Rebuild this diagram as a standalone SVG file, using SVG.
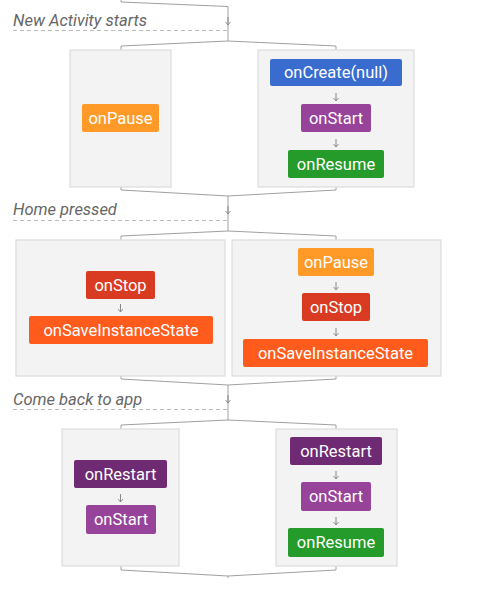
<svg xmlns="http://www.w3.org/2000/svg" width="495" height="597" viewBox="0 0 495 597">
<defs>
<marker id="ah" viewBox="0 0 6 6" refX="5" refY="3" markerWidth="6" markerHeight="6" markerUnits="userSpaceOnUse" orient="auto">
<path d="M2,0.5 L5,3 L2,5.5" fill="none" stroke="#888" stroke-width="0.9"/>
</marker>
<style>
.frame{fill:#f3f3f3;stroke:#dcdcdc;stroke-width:1.2}
.lbl{font-family:Roboto,"Liberation Sans",sans-serif;font-size:16.5px;fill:#fff;text-anchor:middle}
.hdr{font-family:Roboto,"Liberation Sans",sans-serif;font-size:16.5px;font-style:italic;fill:#666}
.dash{stroke:#bbb;stroke-width:1;stroke-dasharray:4,3;fill:none}
.con{stroke:#a0a0a0;stroke-width:1;fill:none}
.sa{stroke:#888;stroke-width:1;fill:none;marker-end:url(#ah)}
.blue{fill:#3a6cd0}.purple{fill:#97439a}.green{fill:#259b2b}.orange{fill:#ff9a28}
.red{fill:#d83b21}.deep{fill:#ff5b1d}.plum{fill:#6e2a72}
</style>
</defs>
<g id="headers">
<text class="hdr" x="13" y="26">New Activity starts</text>
<line class="dash" x1="13" y1="30.5" x2="228" y2="30.5"/>
<text class="hdr" x="13" y="215">Home pressed</text>
<line class="dash" x1="13" y1="220.5" x2="228" y2="220.5"/>
<text class="hdr" x="13" y="405">Come back to app</text>
<line class="dash" x1="13" y1="409.5" x2="228" y2="409.5"/>
</g>
<g id="connectors">
<path class="con" d="M121,0 V2 L228,6.5 V41 L121,46 V50 M228,41 L336,46 V50"/>
<line class="sa" x1="228" y1="17" x2="228" y2="25"/>
<path class="con" d="M121,187 V190 L228,196 V231 L121,236 V240 M336,187 V190 L228,196 M228,231 L336,236 V240"/>
<line class="sa" x1="228" y1="206" x2="228" y2="214"/>
<path class="con" d="M121,376 V379 L228,385 V420 L121,425 V429 M336,376 V379 L228,385 M228,420 L336,425 V429"/>
<line class="sa" x1="228" y1="395" x2="228" y2="403"/>
<path class="con" d="M121,566 V570 L228,576 V578 M336,566 V570 L228,576"/>
</g>
<g id="s1-left">
<rect class="frame" x="70" y="50" width="101" height="137"/>
<rect class="orange" x="82" y="104" width="77" height="28" rx="2"/>
<text class="lbl" x="120.5" y="123.5">onPause</text>
</g>
<g id="s1-right">
<rect class="frame" x="258" y="50" width="156" height="137"/>
<rect class="blue" x="270" y="59" width="132" height="27" rx="2"/>
<text class="lbl" x="336" y="78">onCreate(null)</text>
<line class="sa" x1="336" y1="93" x2="336" y2="101"/>
<rect class="purple" x="301" y="104" width="70" height="28" rx="2"/>
<text class="lbl" x="336" y="123.5">onStart</text>
<line class="sa" x1="336" y1="139" x2="336" y2="147"/>
<rect class="green" x="288" y="150" width="96" height="28" rx="2"/>
<text class="lbl" x="336" y="169.5">onResume</text>
</g>
<g id="s2-left">
<rect class="frame" x="16" y="240" width="209" height="136"/>
<rect class="red" x="86" y="271" width="69" height="28" rx="2"/>
<text class="lbl" x="120.5" y="290.5">onStop</text>
<line class="sa" x1="120.5" y1="304" x2="120.5" y2="312"/>
<rect class="deep" x="29" y="316" width="184" height="28" rx="2"/>
<text class="lbl" x="121" y="335.5">onSaveInstanceState</text>
</g>
<g id="s2-right">
<rect class="frame" x="232" y="240" width="209" height="136"/>
<rect class="orange" x="298" y="248" width="76" height="28" rx="2"/>
<text class="lbl" x="336" y="267.5">onPause</text>
<line class="sa" x1="336" y1="282" x2="336" y2="290"/>
<rect class="red" x="302" y="293" width="68" height="28" rx="2"/>
<text class="lbl" x="336" y="312.5">onStop</text>
<line class="sa" x1="336" y1="328" x2="336" y2="336"/>
<rect class="deep" x="243" y="339" width="185" height="28" rx="2"/>
<text class="lbl" x="335.5" y="358.5">onSaveInstanceState</text>
</g>
<g id="s3-left">
<rect class="frame" x="62" y="429" width="117" height="137"/>
<rect class="plum" x="74" y="460" width="93" height="28" rx="2"/>
<text class="lbl" x="120.5" y="479.5">onRestart</text>
<line class="sa" x1="120.5" y1="494" x2="120.5" y2="502"/>
<rect class="purple" x="86" y="505" width="70" height="29" rx="2"/>
<text class="lbl" x="121" y="525">onStart</text>
</g>
<g id="s3-right">
<rect class="frame" x="276" y="429" width="121" height="137"/>
<rect class="plum" x="290" y="437" width="92" height="28" rx="2"/>
<text class="lbl" x="336" y="456.5">onRestart</text>
<line class="sa" x1="336" y1="471" x2="336" y2="479"/>
<rect class="purple" x="301" y="482" width="70" height="29" rx="2"/>
<text class="lbl" x="336" y="502">onStart</text>
<line class="sa" x1="336" y1="517" x2="336" y2="525"/>
<rect class="green" x="288" y="528" width="96" height="29" rx="2"/>
<text class="lbl" x="336" y="548">onResume</text>
</g>
</svg>
